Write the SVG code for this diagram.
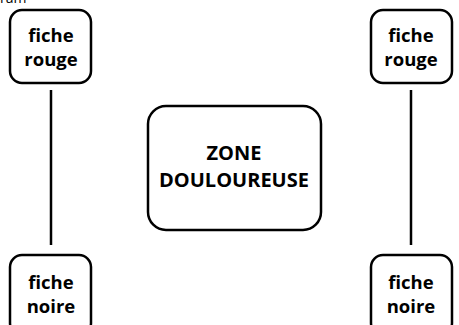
<svg xmlns="http://www.w3.org/2000/svg" width="459" height="325" viewBox="0 0 459 325">
<style>
.box{fill:#fff;stroke:#000;stroke-width:2.5}
.t{font-family:"Open Sans","Noto Sans",sans-serif;font-weight:bold;font-size:18.5px;fill:#000;text-anchor:middle}
.big{font-size:20px}
.c{stroke:#000;stroke-width:2.5;fill:none}
</style>
<rect width="459" height="325" fill="#fff"/>
<text x="0" y="3" style="font-family:'Open Sans',sans-serif;font-size:14px;fill:#000">ram</text>
<g id="connectors">
<line class="c" x1="51" y1="90" x2="51" y2="245"/>
<line class="c" x1="411" y1="90" x2="411" y2="245"/>
</g>
<g id="fiche-rouge-left">
<rect class="box" x="10" y="10" width="81" height="73" rx="12"/>
<text class="t" x="51" y="42">fiche</text>
<text class="t" x="51" y="66">rouge</text>
</g>
<g id="fiche-noire-left">
<rect class="box" x="10" y="255" width="81" height="80" rx="12"/>
<text class="t" x="51" y="289">fiche</text>
<text class="t" x="51" y="313">noire</text>
</g>
<g id="zone">
<rect class="box" x="148" y="106" width="173" height="124" rx="18"/>
<text class="t big" x="234" y="160">ZONE</text>
<text class="t big" x="234" y="187">DOULOUREUSE</text>
</g>
<g id="fiche-rouge-right">
<rect class="box" x="371" y="10" width="81" height="73" rx="12"/>
<text class="t" x="411" y="42">fiche</text>
<text class="t" x="411" y="66">rouge</text>
</g>
<g id="fiche-noire-right">
<rect class="box" x="371" y="255" width="81" height="80" rx="12"/>
<text class="t" x="411" y="289">fiche</text>
<text class="t" x="411" y="313">noire</text>
</g>
</svg>
